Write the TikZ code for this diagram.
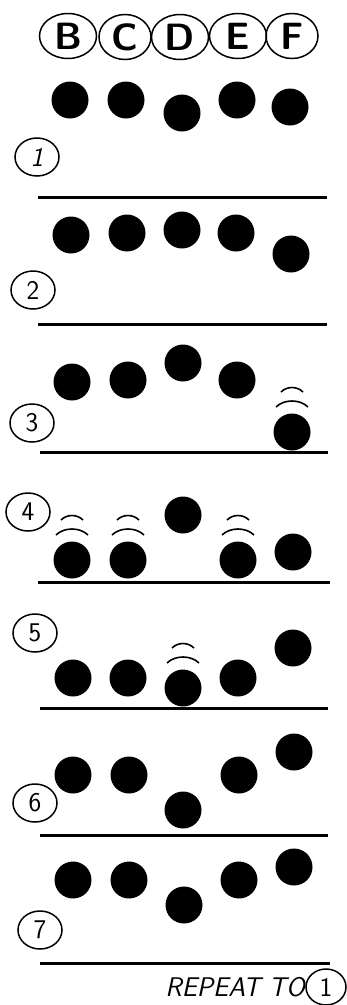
\documentclass[tikz,border=0pt]{standalone}
\usetikzlibrary{shapes.geometric}
\begin{document}
\begin{tikzpicture}[x=1pt,y=-1pt,
  ball/.style={circle, fill=black, minimum size=37pt, inner sep=0pt},
  hdr/.style={ellipse, draw, line width=1.5pt, minimum width=57pt, minimum height=45pt, inner sep=0pt,
    font=\fontsize{38}{38}\selectfont\sffamily\bfseries},
  num/.style={ellipse, draw, line width=1.5pt, minimum width=44pt, minimum height=38pt, inner sep=0pt,
    font=\fontsize{27}{27}\selectfont\sffamily},
  floorline/.style={line width=3pt},
  bounce/.pic={
    \draw[line width=1.6pt] (-16,-25) .. controls (-8,-33) and (8,-33) .. (16,-25);
    \draw[line width=1.6pt] (-11,-40) .. controls (-5,-46) and (5,-46) .. (11,-40);
  }]
\useasboundingbox (0,0) rectangle (346,1005);
% header
\node[hdr] (hB) at (68,36) {B};
\node[hdr, minimum width=52pt] (hC) at (125,37) {C};
\node[hdr] (hD) at (180,37) {D};
\node[hdr] (hE) at (238,36) {E};
\node[hdr, minimum width=52pt] (hF) at (292,36) {F};
% row 1
\node[ball] (b1) at (70,100) {};
\node[ball] (c1) at (126,100) {};
\node[ball] (d1) at (182,113) {};
\node[ball] (e1) at (237,100) {};
\node[ball] (f1) at (290,107) {};
\node[num] (n1) at (37,157) {\itshape 1};
\coordinate (l1a) at (38,197); \coordinate (l1b) at (327,197);
\draw[floorline] (l1a) -- (l1b);
% row 2
\node[ball] (b2) at (71,235) {};
\node[ball] (c2) at (127,233) {};
\node[ball] (d2) at (182,230) {};
\node[ball] (e2) at (236,233) {};
\node[ball] (f2) at (291,254) {};
\node[num] (n2) at (33,290) {2};
\coordinate (l2a) at (38,324); \coordinate (l2b) at (327,324);
\draw[floorline] (l2a) -- (l2b);
% row 3
\node[ball] (b3) at (72,382) {};
\node[ball] (c3) at (128,380) {};
\node[ball] (d3) at (183,363) {};
\node[ball] (e3) at (237,380) {};
\node[ball] (f3) at (292,432) {};
\pic at (f3.center) {bounce};
\node[num] (n3) at (32,423) {3};
\coordinate (l3a) at (40,452); \coordinate (l3b) at (328,452);
\draw[floorline] (l3a) -- (l3b);
% row 4
\node[ball] (b4) at (72,560) {};
\node[ball] (c4) at (128,560) {};
\node[ball] (d4) at (183,515) {};
\node[ball] (e4) at (238,560) {};
\node[ball] (f4) at (293,552) {};
\pic at (b4.center) {bounce};
\pic at (c4.center) {bounce};
\pic at (e4.center) {bounce};
\node[num] (n4) at (28,512) {4};
\coordinate (l4a) at (38,582); \coordinate (l4b) at (330,582);
\draw[floorline] (l4a) -- (l4b);
% row 5
\node[ball] (b5) at (73,678) {};
\node[ball] (c5) at (128,678) {};
\node[ball] (d5) at (183,688) {};
\node[ball] (e5) at (238,678) {};
\node[ball] (f5) at (293,648) {};
\pic at (d5.center) {bounce};
\node[num] (n5) at (35,633) {5};
\coordinate (l5a) at (40,708); \coordinate (l5b) at (328,708);
\draw[floorline] (l5a) -- (l5b);
% row 6
\node[ball] (b6) at (73,775) {};
\node[ball] (c6) at (129,775) {};
\node[ball] (d6) at (183,810) {};
\node[ball] (e6) at (239,775) {};
\node[ball] (f6) at (294,752) {};
\node[num] (n6) at (35,803) {6};
\coordinate (l6a) at (40,835); \coordinate (l6b) at (328,835);
\draw[floorline] (l6a) -- (l6b);
% row 7
\node[ball] (b7) at (73,880) {};
\node[ball] (c7) at (129,880) {};
\node[ball] (d7) at (184,905) {};
\node[ball] (e7) at (239,880) {};
\node[ball] (f7) at (294,867) {};
\node[num] (n7) at (40,930) {7};
\coordinate (l7a) at (40,963); \coordinate (l7b) at (330,963);
\draw[floorline] (l7a) -- (l7b);
% repeat
\node[font=\fontsize{27}{27}\selectfont\sffamily\itshape, anchor=east, inner sep=0pt] (rep) at (305,987) {REPEAT TO};
\node[num, minimum width=40pt, minimum height=36pt] (nr) at (326,987) {1};
\end{tikzpicture}
\end{document}
